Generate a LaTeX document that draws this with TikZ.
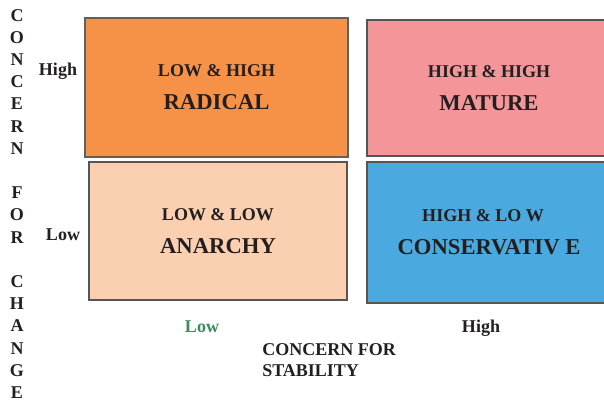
\documentclass[tikz,border=0pt]{standalone}
\usepackage{fontspec}
\setmainfont{Liberation Serif}
\definecolor{radorange}{RGB}{245,146,72}
\definecolor{maturepink}{RGB}{244,150,153}
\definecolor{anarchypeach}{RGB}{251,208,177}
\definecolor{consblue}{RGB}{74,170,224}
\definecolor{boxline}{RGB}{88,84,84}
\definecolor{txtdark}{RGB}{35,31,32}
\definecolor{lowgreen}{RGB}{63,138,95}
\tikzset
{
    quadrant/.style = {rectangle, draw=boxline, line width=1.1pt, align=center, inner sep=0pt, text=txtdark, font=\fontsize{13.5}{24.75}\selectfont\bfseries},
    axislabel/.style = {inner sep=0pt, text=txtdark, font=\fontsize{13.5}{16}\selectfont\bfseries}
}
\newcommand\quadname[1]{{\fontsize{17}{20}\selectfont #1}}
\begin{document}
\begin{tikzpicture}[x=0.75pt,y=-0.75pt]
\useasboundingbox (0,0) rectangle (604,402);
\clip (0,0) rectangle (604,402);
% the four quadrants
\node(radical) [quadrant, fill=radorange, draw=boxline!80!brown, minimum width=197.25pt, minimum height=104.25pt] at (216.5,87.5) {LOW \& HIGH\\\quadname{RADICAL}};
\node(mature) [quadrant, fill=maturepink, minimum width=183pt, minimum height=102pt] at (489,88) {HIGH \& HIGH\\\quadname{MATURE}};
\node(anarchy) [quadrant, fill=anarchypeach, minimum width=193.5pt, minimum height=103.5pt] at (218,231) {LOW \& LOW\\\quadname{ANARCHY}};
\node(conservative) [quadrant, fill=consblue, minimum width=183pt, minimum height=105.75pt] at (489,232.5) {HIGH \& LO W\hspace*{9pt}\\\quadname{CONSERVATIV E}};
% vertical axis
\node(changeaxis) [axislabel, align=center, anchor=north, font=\fontsize{13.5}{16.65}\selectfont\bfseries] at (17,9) {C\\O\\N\\C\\E\\R\\N\\\mbox{}\\F\\O\\R\\\mbox{}\\C\\H\\A\\N\\G\\E};
\node(changehigh) [axislabel] at (58,71) {High};
\node(changelow) [axislabel] at (63,235) {Low};
% horizontal axis
\node(stablow) [axislabel, text=lowgreen] at (202,327) {Low};
\node(stabhigh) [axislabel] at (481,328) {High};
\node(stabaxis) [axislabel, align=left, anchor=north west] at (262,343) {CONCERN FOR\\STABILITY};
\end{tikzpicture}
\end{document}
